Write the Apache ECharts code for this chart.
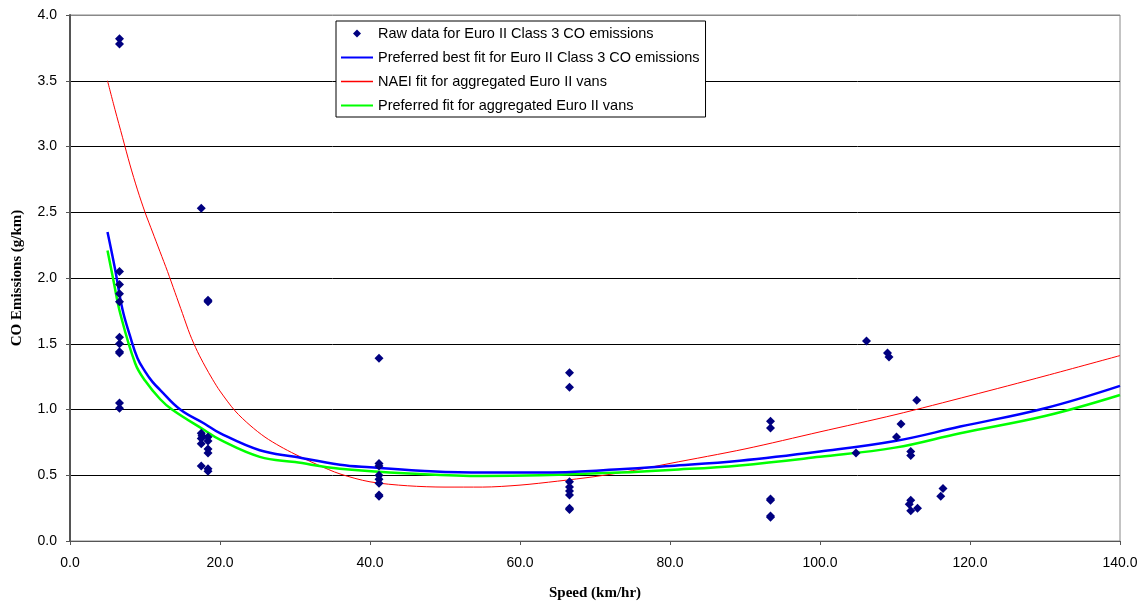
<!DOCTYPE html>
<html>
<head>
<meta charset="utf-8">
<script src="https://cdn.jsdelivr.net/npm/echarts@6/dist/echarts.min.js"></script>
<style>
html,body{margin:0;padding:0;background:#fff;overflow:hidden;}
#c{width:1141px;height:603px;}
</style>
</head>
<body>
<div id="c"></div>
<script>
// Raw data: [speed km/hr, CO g/km]
const rawSpeed = [6.6,6.6,6.6,6.6,6.6,6.6,6.6,6.6,6.6,6.6,6.6,6.6,
  17.5,17.5,17.5,17.5,17.6,17.5,18.4,18.4,18.4,18.4,18.4,18.4,18.4,18.4,
  41.2,41.2,41.2,41.2,41.2,41.2,41.2,41.2,
  66.6,66.6,66.6,66.6,66.6,66.6,66.6,66.6,
  93.4,93.4,93.4,93.4,93.4,93.4,
  106.2,109.0,109.2,112.9,110.8,110.2,104.8,112.1,112.1,116.4,116.1,112.1,111.9,113.0,112.1];
const rawCO = [3.82,3.78,2.05,1.95,1.88,1.82,1.55,1.50,1.44,1.43,1.05,1.01,
  2.53,0.82,0.78,0.74,0.80,0.57,1.83,1.82,0.79,0.76,0.70,0.67,0.55,0.53,
  1.39,0.59,0.57,0.50,0.47,0.44,0.35,0.34,
  1.28,1.17,0.45,0.41,0.38,0.35,0.25,0.24,
  0.91,0.86,0.32,0.31,0.19,0.18,
  1.52,1.43,1.40,1.07,0.89,0.79,0.67,0.68,0.65,0.40,0.34,0.31,0.28,0.25,0.23];

// Preferred best fit for Euro II Class 3
const blueSpeed = [5,6,7,8,9,10,11,12,14.7,18,20,25.3,30,36,40,46.7,55,62.7,73.3,80,89.3,100,110,118.7,130,140];
const blueCO    = [2.35,2.07,1.76,1.56,1.39,1.29,1.21,1.15,1.0,0.89,0.82,0.69,0.64,0.58,0.56,0.535,0.52,0.52,0.545,0.57,0.61,0.68,0.76,0.87,1.01,1.18];

// NAEI fit for aggregated Euro II vans
const redSpeed = [5,6,7,8,9,10,11,12,13,14,15,16,17,18,19,20,22,24,26,28,30,33,36,40,45,50,55,60,65,70,75,80,90,100,110,120,130,140];
const redCO    = [3.5,3.28,3.07,2.86,2.67,2.5,2.35,2.2,2.05,1.89,1.73,1.57,1.44,1.33,1.23,1.14,0.99,0.88,0.79,0.72,0.66,0.58,0.51,0.45,0.42,0.41,0.41,0.425,0.455,0.49,0.535,0.59,0.70,0.83,0.96,1.105,1.255,1.41];

// Preferred fit for aggregated Euro II vans
const greenSpeed = [5,5.8,6.7,8.7,10,12,13.6,18,20,25.3,30,36,46.7,55,62.7,73.3,80,89.3,100,110,118.7,130,140];
const greenCO    = [2.21,1.98,1.73,1.35,1.22,1.08,1.0,0.84,0.77,0.64,0.60,0.55,0.51,0.495,0.50,0.52,0.54,0.575,0.64,0.71,0.82,0.95,1.11];

const seriesNames = [
  'Raw data for Euro II Class 3 CO emissions',
  'Preferred best fit for Euro II Class 3 CO emissions',
  'NAEI fit for aggregated Euro II vans',
  'Preferred fit for aggregated Euro II vans'
];

const zip = (a,b) => a.map((v,i)=>[v,b[i]]);
const chart = echarts.init(document.getElementById('c'), null, {renderer:'canvas'});
const fnt = "'Liberation Sans', Arial, sans-serif";
const serif = "'Liberation Serif', 'Times New Roman', serif";
const corners = ' M0,0L0.01,0L0,0.01Z M32,14L31.99,14L32,13.99Z';
chart.setOption({
  animation:false,
  backgroundColor:'#fff',
  grid:{left:70,right:21,top:15,height:526,outerBoundsMode:'none',containLabel:false,show:true,borderColor:'#888',borderWidth:1},
  legend:{
    orient:'vertical', left:336, top:21,
    backgroundColor:'#fff', borderColor:'#000', borderWidth:1,
    padding:[5,6,4,5], itemGap:9, itemWidth:32, itemHeight:14,
    textStyle:{fontFamily:fnt,fontSize:14.5,color:'#000'},
    data:[
      {name:seriesNames[0], icon:'path://M16,3 L20,7 L16,11 L12,7 Z' + corners, itemStyle:{color:'#000080',opacity:1}},
      {name:seriesNames[1], icon:'path://M0,6 L32,6 L32,8 L0,8 Z' + corners, itemStyle:{color:'#0000FF'}},
      {name:seriesNames[2], icon:'path://M0,6.3 L32,6.3 L32,7.7 L0,7.7 Z' + corners, itemStyle:{color:'#FF0000'}},
      {name:seriesNames[3], icon:'path://M0,6 L32,6 L32,8 L0,8 Z' + corners, itemStyle:{color:'#00FF00'}}
    ]
  },
  xAxis:{
    type:'value', min:0, max:140, interval:20,
    name:'Speed (km/hr)', nameLocation:'middle', nameGap:45,
    nameTextStyle:{fontFamily:serif,fontWeight:'bold',fontSize:15,color:'#000'},
    axisLine:{show:true,lineStyle:{color:'#555',width:1}},
    axisTick:{show:true,inside:false,length:4,lineStyle:{color:'#555'}},
    axisLabel:{formatter:v=>v.toFixed(1),margin:15,fontFamily:fnt,fontSize:14,color:'#000'},
    splitLine:{show:false}
  },
  yAxis:{
    type:'value', min:0, max:4, interval:0.5,
    name:'CO Emissions (g/km)', nameLocation:'middle', nameGap:45, nameRotate:90,
    nameTextStyle:{fontFamily:serif,fontWeight:'bold',fontSize:15,color:'#000'},
    axisLine:{show:true,lineStyle:{color:'#555',width:2}},
    axisTick:{show:true,inside:false,length:4,lineStyle:{color:'#555'}},
    axisLabel:{formatter:v=>v.toFixed(1),margin:13,fontFamily:fnt,fontSize:14,color:'#000'},
    splitLine:{show:true,lineStyle:{color:['#000','#000','#000','#000','#000','#000','#000','#000','#888'],width:1}}
  },
  series:[
    {name:seriesNames[0], type:'scatter', data:zip(rawSpeed,rawCO), symbol:'diamond', symbolSize:9,
     itemStyle:{color:'#000080',opacity:1}, z:5},
    {name:seriesNames[1], type:'line', data:zip(blueSpeed,blueCO), smooth:0.4, showSymbol:false, symbol:'none',
     lineStyle:{color:'#0000FF',width:2.5}, itemStyle:{color:'#0000FF'}, z:4},
    {name:seriesNames[2], type:'line', data:zip(redSpeed,redCO), smooth:0.3, showSymbol:false, symbol:'none',
     lineStyle:{color:'#FF0000',width:1}, itemStyle:{color:'#FF0000'}, z:3},
    {name:seriesNames[3], type:'line', data:zip(greenSpeed,greenCO), smooth:0.4, showSymbol:false, symbol:'none',
     lineStyle:{color:'#00FF00',width:2.5}, itemStyle:{color:'#00FF00'}, z:3}
  ]
});
</script>
</body>
</html>
